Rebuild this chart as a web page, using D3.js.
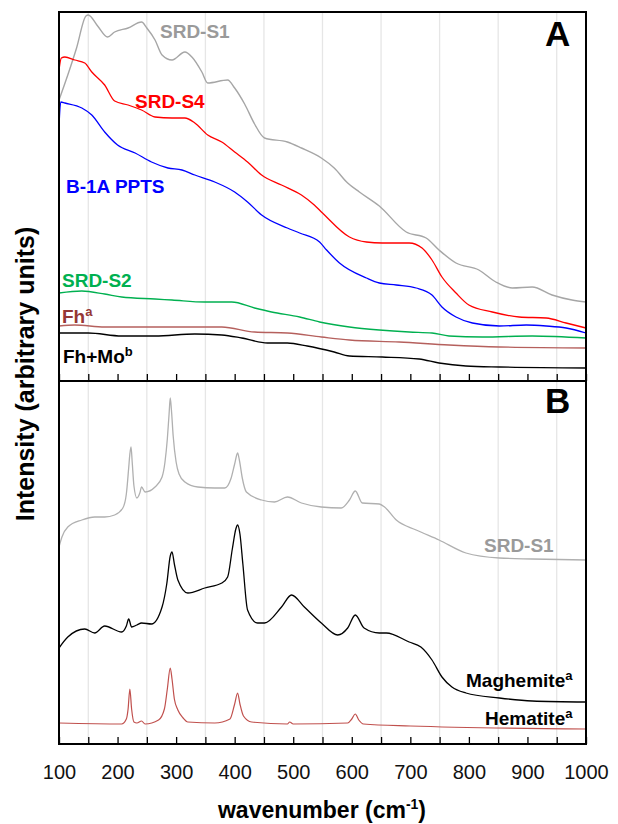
<!DOCTYPE html>
<html>
<head>
<meta charset="utf-8">
<script src="https://cdn.jsdelivr.net/npm/d3@7"></script>
<style>
  body { margin: 0; background: #fff; }
  svg { font-family: "Liberation Sans", Arial, sans-serif; }
  .lbl { font-weight: bold; font-size: 19px; }
</style>
</head>
<body>
<div id="chart"></div>
<script>
// Raman spectra, [wavenumber, intensity] pairs (arbitrary units)
// ---- panel A ----
var srdS1A = [[100,281],[115,306],[130,333],[146,365],[150,366],[166,355],[183,344],[195,349],[218,353],[241,359],[250,353],[264,341],[276,326],[293,321],[315,329],[327,324],[344,309],[354,298],[388,301],[400,293],[417,277],[434,257],[451,243],[490,239],[514,233],[548,223],[570,213],[593,198],[613,189],[647,175],[693,149],[727,143],[749,131],[778,118],[817,111],[846,99],[874,93],[908,94],[942,86],[976,81],[1000,79]];
var srdS4A = [[100,311],[104,323],[110,324],[127,321],[144,318],[156,309],[178,296],[195,280],[218,276],[241,271],[264,264],[293,263],[315,263],[332,258],[354,246],[378,239],[400,229],[422,219],[446,206],[480,196],[514,186],[536,176],[550,168],[596,144],[625,139],[652,138],[698,138],[720,133],[737,121],[754,104],[778,88],[800,76],[840,69],[886,64],[932,63],[966,58],[1000,53]];
var b1aA = [[100,255],[103,279],[110,278],[139,273],[156,266],[178,249],[200,236],[230,228],[258,219],[286,213],[310,211],[332,206],[366,199],[400,189],[422,179],[446,166],[490,153],[511,148],[545,139],[557,131],[579,118],[625,103],[647,98],[676,96],[710,93],[737,86],[754,74],[778,64],[806,58],[852,55],[898,56],[932,55],[966,53],[1000,48]];
var srdS2A = [[100,88],[139,90],[178,87],[207,84],[264,82],[293,81],[349,79],[395,79],[434,73],[463,69],[511,64],[545,59],[596,54],[647,51],[698,49],[737,48],[766,45],[823,44],[908,45],[1000,43]];
var fhA = [[100,55],[127,56],[178,54],[264,54],[332,54],[378,54],[434,49],[490,48],[548,44],[596,41],[681,39],[766,36],[852,34],[1000,33]];
var fhMoA = [[100,48],[150,48],[207,45],[264,45],[332,47],[378,46],[412,43],[456,38],[490,38],[524,35],[570,29],[596,25],[652,24],[715,22],[749,18],[795,15],[852,14],[1000,13]];

// ---- panel B ----
var srdS1B = [[100,197],[105,207],[115,217],[139,224],[161,227],[178,227],[195,229],[209,236],[215,250],[219,276],[221,290],[223,297],[225,282],[228,258],[233,246],[238,251],[241,257],[247,252],[264,257],[276,267],[281,282],[285,305],[288,330],[290,346],[292,334],[295,308],[300,282],[305,270],[315,262],[337,257],[366,256],[383,256],[394,266],[400,280],[405,291],[408,284],[413,266],[420,252],[446,244],[468,242],[490,247],[514,241],[548,237],[582,236],[596,244],[606,253],[618,241],[647,240],[656,237],[676,224],[710,214],[749,204],[795,191],[852,186],[908,185],[1000,184]];
var maghemiteB = [[100,96],[115,107],[144,115],[161,111],[178,118],[207,112],[215,118],[219,125],[224,117],[233,119],[241,121],[258,120],[276,137],[284,160],[290,188],[293,192],[297,180],[303,164],[320,151],[349,156],[378,161],[388,167],[396,195],[402,215],[405,219],[409,210],[414,180],[422,134],[439,121],[451,121],[480,137],[497,149],[519,137],[548,121],[576,109],[593,116],[606,129],[621,116],[647,111],[659,111],[698,102],[718,97],[737,84],[754,67],[771,57],[795,51],[852,46],[908,43],[1000,42]];
var hematiteB = [[100,21],[207,20],[215,25],[218,35],[221,55],[224,35],[228,22],[233,21],[241,23],[247,20],[270,24],[280,35],[285,55],[290,76],[293,65],[297,45],[303,34],[312,26],[320,22],[366,21],[392,25],[400,40],[405,51],[409,40],[415,28],[429,22],[490,20],[494,22],[500,20],[593,21],[600,25],[606,30],[612,24],[620,20],[700,18],[1000,15]];

var tickValues = d3.range(100, 1001, 50);
var gridValues = d3.range(150, 1000, 100);

var width = 618, height = 824;
var left = 59, right = 586;
var panelA = { top: 12, bottom: 381 },
    panelB = { top: 381, bottom: 744 };

var svg = d3.select("#chart").append("svg")
    .attr("width", width)
    .attr("height", height);

var x = d3.scaleLinear().domain([100, 1000]).range([left, right]);
var yA = d3.scaleLinear().domain([0, panelA.bottom - panelA.top]).range([panelA.bottom, panelA.top]);
var yB = d3.scaleLinear().domain([0, panelB.bottom - panelB.top]).range([panelB.bottom, panelB.top]);

// gridlines
[panelA, panelB].forEach(function (p) {
    svg.append("g").selectAll("line").data(gridValues).enter().append("line")
        .attr("x1", function (d) { return x(d); })
        .attr("x2", function (d) { return x(d); })
        .attr("y1", p.top)
        .attr("y2", p.bottom)
        .attr("stroke", "#e6e6e6")
        .attr("stroke-width", 1.3);
});

function drawLine(data, y, color, w) {
    var line = d3.line()
        .x(function (d) { return x(d[0]); })
        .y(function (d) { return y(d[1]); })
        .curve(d3.curveMonotoneX);
    svg.append("path")
        .datum(data)
        .attr("d", line)
        .attr("fill", "none")
        .attr("stroke", color)
        .attr("stroke-width", w)
        .attr("stroke-linejoin", "round");
}

drawLine(fhMoA, yA, "#000000", 1.3);
drawLine(fhA, yA, "#b5605d", 1.3);
drawLine(srdS2A, yA, "#00b050", 1.3);
drawLine(srdS1A, yA, "#a6a6a6", 1.4);
drawLine(b1aA, yA, "#0000ff", 1.3);
drawLine(srdS4A, yA, "#ff0000", 1.3);

drawLine(hematiteB, yB, "#c0504d", 1.2);
drawLine(maghemiteB, yB, "#000000", 1.3);
drawLine(srdS1B, yB, "#b0b0b0", 1.3);

// axes: ticks point up into each panel
svg.append("g")
    .attr("transform", "translate(0," + panelA.bottom + ")")
    .call(d3.axisBottom(x).tickValues(tickValues).tickSize(-7).tickFormat(""))
    .call(function (g) { g.select(".domain").remove(); });

var axB = svg.append("g")
    .attr("transform", "translate(0," + panelB.bottom + ")")
    .call(d3.axisBottom(x).tickValues(tickValues).tickSize(-7).tickPadding(21)
        .tickFormat(function (d) { return d % 100 === 0 ? d : ""; }));
axB.select(".domain").remove();
axB.selectAll("text").attr("font-size", 20).attr("fill", "#111")
    .attr("font-family", "'Liberation Sans', Arial, sans-serif");
svg.selectAll(".tick line").attr("stroke", "#000").attr("stroke-width", 1.3);

// frames
[panelA, panelB].forEach(function (p) {
    svg.append("rect")
        .attr("x", left).attr("y", p.top)
        .attr("width", right - left).attr("height", p.bottom - p.top)
        .attr("fill", "none").attr("stroke", "#000").attr("stroke-width", 2);
});

// panel letters
svg.append("text").attr("x", 545).attr("y", 46).attr("font-size", 35).attr("font-weight", "bold").text("A");
svg.append("text").attr("x", 545).attr("y", 413).attr("font-size", 35).attr("font-weight", "bold").text("B");

// series labels
function label(px, py, color, main, sup) {
    var t = svg.append("text").attr("class", "lbl").attr("x", px).attr("y", py).attr("fill", color);
    t.append("tspan").text(main);
    if (sup) t.append("tspan").attr("font-size", 13).attr("dy", -7).text(sup);
}
label(160, 38, "#9a9a9a", "SRD-S1");
label(135, 108, "#ff0000", "SRD-S4");
label(66, 193, "#0000ff", "B-1A PPTS");
label(62, 287, "#00b050", "SRD-S2");
label(62, 323, "#953735", "Fh", "a");
label(63, 363, "#000000", "Fh+Mo", "b");
label(484, 552, "#9a9a9a", "SRD-S1");
label(466, 687, "#000000", "Maghemite", "a");
label(485, 725, "#000000", "Hematite", "a");

// axis titles
svg.append("text")
    .attr("transform", "translate(34,374) rotate(-90)")
    .attr("text-anchor", "middle")
    .attr("font-size", 25)
    .attr("font-weight", "bold")
    .text("Intensity (arbitrary units)");

var xt = svg.append("text")
    .attr("x", 322).attr("y", 818)
    .attr("text-anchor", "middle")
    .attr("font-size", 23)
    .attr("font-weight", "bold");
xt.append("tspan").text("wavenumber (cm");
xt.append("tspan").attr("font-size", 14).attr("dy", -9).text("-1");
xt.append("tspan").attr("dy", 9).text(")");
</script>
</body>
</html>
